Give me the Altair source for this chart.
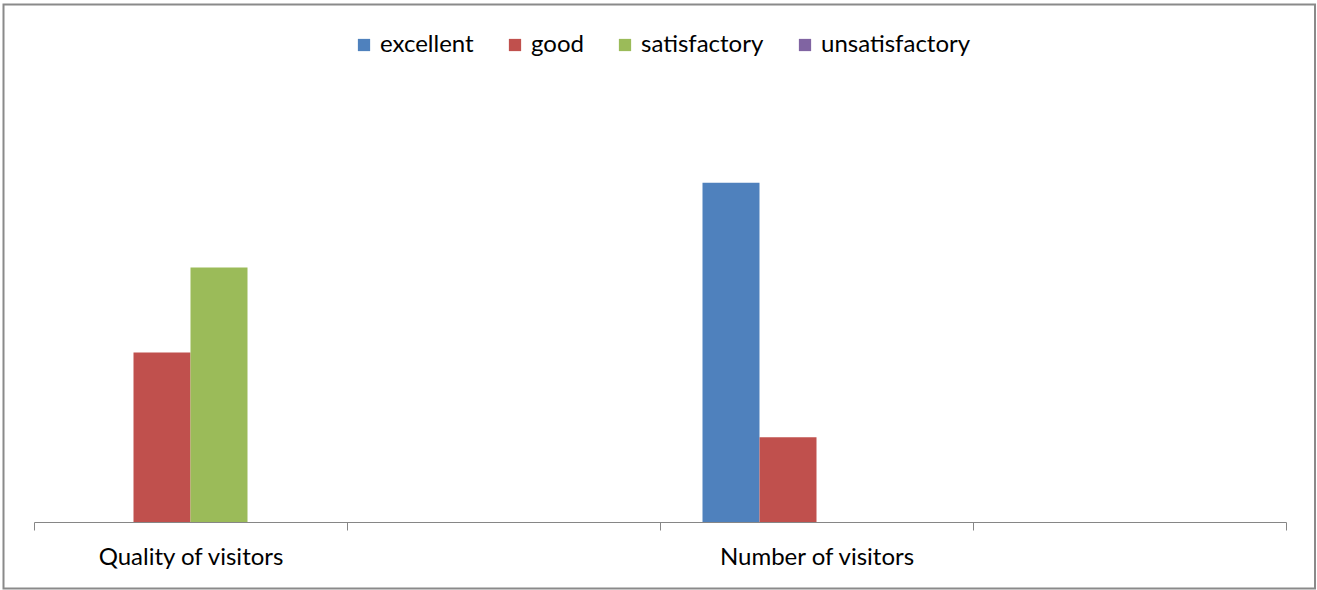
import altair as alt
import pandas as pd

categories = ["Quality of visitors", " ", "Number of visitors", "  "]
series = ["excellent", "good", "satisfactory", "unsatisfactory"]
colors = ["#4F81BD", "#C0504D", "#9BBB59", "#8064A2"]
values = [
    [0, 2, 3, 0],
    [0, 0, 0, 0],
    [4, 1, 0, 0],
    [0, 0, 0, 0],
]

rows = []
for c, vals in zip(categories, values):
    for s, v in zip(series, vals):
        rows.append({"category": c, "series": s, "value": v})
df = pd.DataFrame(rows)

W, H = 1252, 424
FONT = "Lato"

bars = alt.Chart(df).mark_bar().encode(
    x=alt.X("category:N", sort=categories,
            scale=alt.Scale(paddingInner=0, paddingOuter=0),
            axis=alt.Axis(title=None, labelAngle=0, labelFontSize=24, labelFont=FONT,
                          labelColor="#000000", domainColor="#868686", tickColor="#868686",
                          tickSize=8, tickBand="extent", labelPadding=15, labelLimit=500,
                          grid=False)),
    xOffset=alt.XOffset("series:N", sort=series,
                        scale=alt.Scale(paddingInner=0, paddingOuter=0.7456)),
    y=alt.Y("value:Q", scale=alt.Scale(domain=[0, 5], nice=False), axis=None),
    color=alt.Color("series:N", sort=series,
                    scale=alt.Scale(domain=series, range=colors),
                    legend=alt.Legend(title=None, orient="none", direction="horizontal",
                                      legendX=318, legendY=-65, symbolType="square",
                                      symbolSize=150, symbolStrokeWidth=0, labelFontSize=24,
                                      labelFont=FONT, labelColor="#000000", labelOffset=4,
                                      labelLimit=400, columnPadding=29)),
)

frame = alt.Chart(pd.DataFrame({"k": [0]})).mark_rect(
    fill="#FFFFFF", fillOpacity=0, stroke="#8A8A8A", strokeWidth=2, clip=False
).encode(
    x=alt.value(-30.5), x2=alt.value(1281), y=alt.value(-93.5), y2=alt.value(490.5)
)

chart = alt.layer(bars, frame).properties(
    width=W, height=H,
    padding={"left": 34, "top": 98, "right": 31, "bottom": 68},
    autosize=alt.AutoSizeParams(type="none"),
).configure(background="#FFFFFF").configure_view(stroke=None)

chart.save("out.html", embed_options={"renderer": "svg", "actions": False})
